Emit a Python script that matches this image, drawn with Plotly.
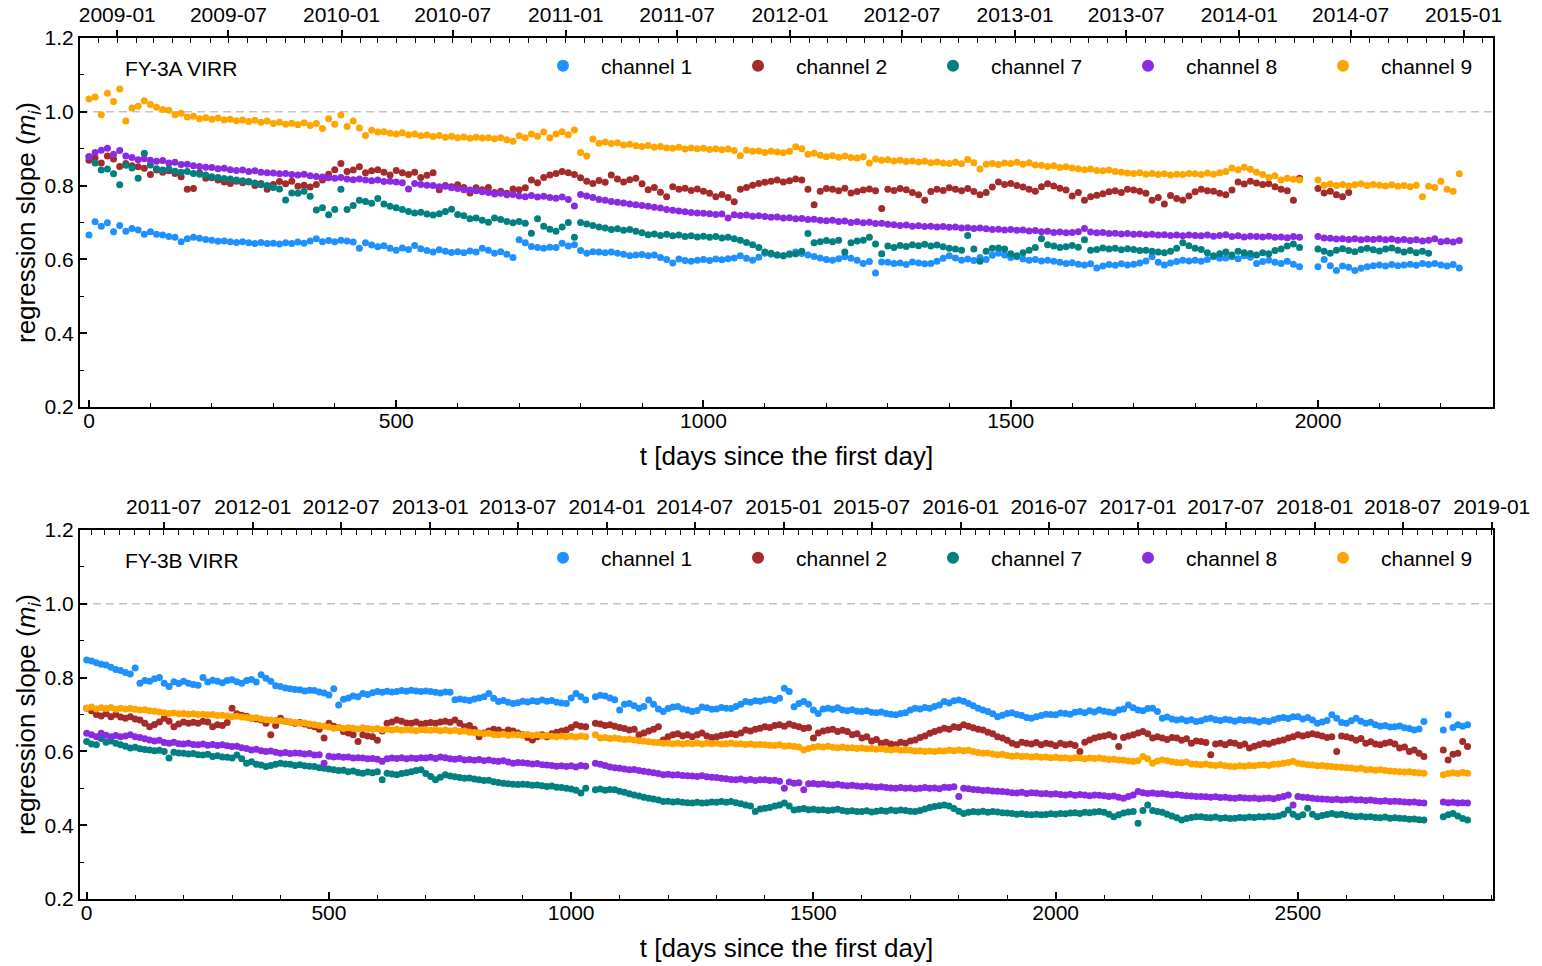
import datetime as dt
import plotly.graph_objects as go

# ---------------- data ----------------
CHANNELS = ["channel 1", "channel 2", "channel 7", "channel 8", "channel 9"]
COLORS = ["#1E90FF", "#A52A2A", "#008080", "#8A2BE2", "#FFA500"]
SAMPLE_STEP = 10  # days between plotted samples

# FY-3A VIRR: segment start days (gap between ~1970 and 2000)
A_SEG_STARTS = [0, 2000]
A_FIRST_DAY = dt.datetime(2008, 11, 16)

A_CH1_1 = [0.666, 0.702, 0.690, 0.699, 0.675, 0.692, 0.676, 0.684, 0.680, 0.668,
           0.675, 0.668, 0.666, 0.662, 0.660, 0.648, 0.656, 0.660, 0.657, 0.654,
           0.652, 0.649, 0.650, 0.648, 0.646, 0.648, 0.645, 0.643, 0.646, 0.643,
           0.644, 0.642, 0.645, 0.643, 0.647, 0.644, 0.650, 0.656, 0.648, 0.651,
           0.648, 0.652, 0.650, 0.647, 0.630, 0.645, 0.639, 0.634, 0.637, 0.630,
           0.625, 0.631, 0.627, 0.638, 0.629, 0.624, 0.620, 0.626, 0.622, 0.619,
           0.621, 0.618, 0.623, 0.620, 0.630, 0.625, 0.617, 0.621, 0.614, 0.605,
           0.653, 0.645, 0.635, 0.632, 0.630, 0.633, 0.632, 0.644, 0.636, 0.640,
           0.624, 0.617, 0.621, 0.620, 0.618, 0.620, 0.617, 0.614, 0.610, 0.612,
           0.613, 0.610, 0.612, 0.605, 0.600, 0.590, 0.601, 0.597, 0.595, 0.598,
           0.600, 0.597, 0.601, 0.599, 0.602, 0.604, 0.610, 0.603, 0.598, 0.606,
           0.617, 0.614, 0.612, 0.610, 0.615, 0.620, 0.616, 0.612, 0.608, 0.604,
           0.600, 0.598, 0.602, 0.607, 0.603, 0.598, 0.589, 0.594, 0.563, 0.593,
           0.592, 0.589, 0.590, 0.586, 0.593, 0.590, 0.588, 0.589, 0.595, 0.603,
           0.610, 0.604, 0.598, 0.601, 0.597, 0.605, 0.600, 0.611, 0.617, 0.612,
           0.605, 0.607, 0.601, 0.598, 0.600, 0.596, 0.598, 0.595, 0.592, 0.589,
           0.591, 0.587, 0.585, 0.588, 0.577, 0.582, 0.586, 0.584, 0.588, 0.585,
           0.587, 0.590, 0.596, 0.607, 0.592, 0.585, 0.590, 0.594, 0.598, 0.596,
           0.598, 0.595, 0.600, 0.607, 0.603, 0.604, 0.607, 0.602, 0.610, 0.606,
           0.589, 0.594, 0.598, 0.592, 0.589, 0.595, 0.587, 0.580]
A_CH1_2 = [0.580, 0.600, 0.583, 0.570, 0.582, 0.579, 0.570, 0.576, 0.580, 0.583,
           0.585, 0.582, 0.586, 0.583, 0.585, 0.587, 0.584, 0.589, 0.586, 0.589,
           0.585, 0.582, 0.586, 0.577]

A_CH2_1 = [0.869, 0.875, 0.861, 0.880, 0.872, 0.852, 0.860, 0.854, 0.851, 0.847,
           0.830, 0.842, 0.836, 0.840, 0.833, 0.824, 0.790, 0.792, 0.835, 0.820,
           0.821, 0.815, 0.810, 0.806, 0.812, 0.808, 0.811, 0.800, 0.806, 0.790,
           0.803, 0.811, 0.805, 0.812, 0.798, 0.801, 0.796, 0.803, 0.815, 0.831,
           0.843, 0.860, 0.838, 0.842, 0.851, 0.835, 0.840, 0.843, 0.836, 0.829,
           0.841, 0.835, 0.830, 0.836, 0.822, 0.828, 0.835, 0.789, 0.800, 0.797,
           0.802, 0.795, 0.780, 0.794, 0.789, 0.795, 0.781, 0.785, 0.779, 0.791,
           0.789, 0.794, 0.815, 0.808, 0.822, 0.829, 0.833, 0.838, 0.835, 0.830,
           0.821, 0.812, 0.806, 0.814, 0.809, 0.829, 0.818, 0.810, 0.816, 0.820,
           0.805, 0.789, 0.795, 0.782, 0.770, 0.797, 0.790, 0.793, 0.787, 0.791,
           0.785, 0.779, 0.770, 0.776, 0.768, 0.756, 0.790, 0.795, 0.801, 0.806,
           0.809, 0.812, 0.815, 0.810, 0.813, 0.818, 0.815, 0.790, 0.748, 0.785,
           0.792, 0.790, 0.786, 0.793, 0.780, 0.784, 0.788, 0.791, 0.786, 0.738,
           0.790, 0.787, 0.792, 0.789, 0.781, 0.775, 0.760, 0.784, 0.790, 0.787,
           0.794, 0.790, 0.786, 0.792, 0.784, 0.775, 0.781, 0.796, 0.810, 0.803,
           0.806, 0.800, 0.796, 0.790, 0.785, 0.797, 0.805, 0.799, 0.793, 0.788,
           0.772, 0.781, 0.760, 0.770, 0.774, 0.778, 0.783, 0.786, 0.781, 0.790,
           0.788, 0.785, 0.779, 0.760, 0.768, 0.750, 0.773, 0.765, 0.760, 0.772,
           0.783, 0.790, 0.786, 0.785, 0.779, 0.775, 0.788, 0.810, 0.804, 0.812,
           0.807, 0.803, 0.805, 0.797, 0.790, 0.786, 0.760, 0.820]
A_CH2_2 = [0.792, 0.780, 0.785, 0.775, 0.770, 0.781]

A_CH7_1 = [0.878, 0.861, 0.842, 0.845, 0.832, 0.802, 0.855, 0.848, 0.820, 0.888,
           0.856, 0.846, 0.842, 0.845, 0.839, 0.836, 0.838, 0.833, 0.831, 0.829,
           0.824, 0.822, 0.819, 0.818, 0.815, 0.813, 0.810, 0.807, 0.802, 0.800,
           0.795, 0.791, 0.761, 0.780, 0.779, 0.785, 0.771, 0.734, 0.740, 0.721,
           0.735, 0.790, 0.735, 0.746, 0.760, 0.757, 0.752, 0.765, 0.750, 0.744,
           0.740, 0.735, 0.730, 0.726, 0.728, 0.723, 0.720, 0.724, 0.730, 0.736,
           0.722, 0.718, 0.710, 0.712, 0.706, 0.701, 0.712, 0.708, 0.703, 0.699,
           0.703, 0.698, 0.671, 0.710, 0.690, 0.682, 0.676, 0.688, 0.700, 0.660,
           0.700, 0.696, 0.692, 0.688, 0.685, 0.681, 0.683, 0.679, 0.681, 0.676,
           0.672, 0.667, 0.669, 0.665, 0.668, 0.664, 0.666, 0.662, 0.664, 0.661,
           0.663, 0.660, 0.662, 0.658, 0.660, 0.656, 0.652, 0.646, 0.640, 0.632,
           0.620, 0.617, 0.612, 0.610, 0.614, 0.615, 0.622, 0.670, 0.645, 0.648,
           0.651, 0.648, 0.652, 0.620, 0.645, 0.650, 0.652, 0.660, 0.642, 0.615,
           0.636, 0.632, 0.638, 0.635, 0.640, 0.637, 0.641, 0.636, 0.639, 0.634,
           0.630, 0.628, 0.625, 0.665, 0.628, 0.595, 0.622, 0.630, 0.631, 0.628,
           0.615, 0.610, 0.618, 0.625, 0.632, 0.656, 0.640, 0.636, 0.632, 0.634,
           0.638, 0.633, 0.653, 0.625, 0.627, 0.631, 0.628, 0.630, 0.626, 0.629,
           0.627, 0.624, 0.625, 0.622, 0.620, 0.618, 0.622, 0.630, 0.645, 0.637,
           0.630, 0.627, 0.618, 0.610, 0.615, 0.620, 0.612, 0.622, 0.618, 0.616,
           0.612, 0.618, 0.615, 0.624, 0.628, 0.636, 0.642, 0.632]
A_CH7_2 = [0.628, 0.622, 0.617, 0.625, 0.629, 0.624, 0.621, 0.627, 0.630, 0.626,
           0.623, 0.628, 0.631, 0.625, 0.620, 0.624, 0.618, 0.622, 0.617]

A_CH8_1 = [0.878, 0.890, 0.896, 0.901, 0.885, 0.895, 0.880, 0.876, 0.870, 0.873,
           0.869, 0.866, 0.868, 0.861, 0.863, 0.857, 0.858, 0.854, 0.852, 0.850,
           0.849, 0.846, 0.847, 0.843, 0.841, 0.842, 0.838, 0.840, 0.836, 0.835,
           0.834, 0.832, 0.833, 0.830, 0.829, 0.831, 0.827, 0.825, 0.823, 0.821,
           0.820, 0.822, 0.818, 0.816, 0.818, 0.815, 0.813, 0.815, 0.811, 0.812,
           0.810, 0.808, 0.791, 0.806, 0.803, 0.801, 0.800, 0.797, 0.798, 0.794,
           0.792, 0.789, 0.788, 0.786, 0.783, 0.781, 0.777, 0.779, 0.775, 0.776,
           0.772, 0.770, 0.773, 0.769, 0.771, 0.768, 0.766, 0.769, 0.762, 0.745,
           0.776, 0.772, 0.768, 0.762, 0.760, 0.757, 0.755, 0.753, 0.750, 0.748,
           0.746, 0.744, 0.741, 0.739, 0.735, 0.733, 0.731, 0.729, 0.727, 0.726,
           0.725, 0.724, 0.722, 0.723, 0.712, 0.721, 0.719, 0.720, 0.717, 0.718,
           0.716, 0.714, 0.715, 0.712, 0.713, 0.710, 0.711, 0.708, 0.709, 0.706,
           0.705, 0.706, 0.703, 0.704, 0.700, 0.702, 0.699, 0.701, 0.697, 0.698,
           0.695, 0.694, 0.692, 0.693, 0.690, 0.691, 0.689, 0.690, 0.688, 0.689,
           0.687, 0.688, 0.685, 0.686, 0.684, 0.685, 0.683, 0.681, 0.682, 0.680,
           0.681, 0.679, 0.680, 0.677, 0.678, 0.675, 0.676, 0.673, 0.674, 0.672,
           0.673, 0.675, 0.684, 0.674, 0.672, 0.673, 0.670, 0.671, 0.669, 0.670,
           0.668, 0.669, 0.667, 0.668, 0.666, 0.667, 0.665, 0.666, 0.664, 0.666,
           0.665, 0.664, 0.666, 0.663, 0.665, 0.667, 0.662, 0.664, 0.661, 0.663,
           0.662, 0.661, 0.663, 0.660, 0.661, 0.659, 0.662, 0.660]
A_CH8_2 = [0.662, 0.658, 0.657, 0.655, 0.656, 0.654, 0.656, 0.653, 0.655, 0.654,
           0.656, 0.653, 0.655, 0.652, 0.654, 0.651, 0.653, 0.650, 0.652, 0.656,
           0.648, 0.650, 0.647, 0.651]

A_CH9_1 = [1.035, 1.040, 0.992, 1.050, 1.028, 1.062, 0.975, 1.010, 1.015, 1.030,
           1.020, 1.012, 1.006, 1.004, 0.992, 0.996, 0.986, 0.988, 0.981, 0.984,
           0.980, 0.983, 0.978, 0.980, 0.976, 0.978, 0.974, 0.977, 0.972, 0.975,
           0.968, 0.972, 0.966, 0.969, 0.965, 0.970, 0.963, 0.968, 0.955, 0.981,
           0.966, 0.991, 0.960, 0.975, 0.956, 0.936, 0.950, 0.945, 0.946, 0.942,
           0.940, 0.943, 0.938, 0.940, 0.935, 0.937, 0.933, 0.936, 0.931, 0.934,
           0.930, 0.932, 0.928, 0.931, 0.929, 0.930, 0.927, 0.930, 0.924, 0.920,
           0.935, 0.930, 0.940, 0.934, 0.945, 0.930, 0.940, 0.946, 0.938, 0.951,
           0.890, 0.880, 0.926, 0.915, 0.918, 0.914, 0.916, 0.910, 0.912, 0.908,
           0.906, 0.909, 0.904, 0.906, 0.902, 0.901, 0.904, 0.899, 0.902, 0.900,
           0.901, 0.898, 0.900, 0.897, 0.899, 0.895, 0.881, 0.896, 0.893, 0.894,
           0.890, 0.893, 0.891, 0.889, 0.893, 0.905, 0.900, 0.885, 0.888, 0.882,
           0.878, 0.881, 0.877, 0.880, 0.876, 0.875, 0.878, 0.861, 0.872, 0.869,
           0.870, 0.867, 0.869, 0.865, 0.867, 0.864, 0.866, 0.862, 0.864, 0.861,
           0.860, 0.863, 0.859, 0.871, 0.862, 0.845, 0.858, 0.860, 0.857, 0.861,
           0.860, 0.863, 0.858, 0.862, 0.856, 0.855, 0.852, 0.854, 0.849, 0.851,
           0.848, 0.846, 0.843, 0.845, 0.841, 0.840, 0.842, 0.838, 0.836, 0.834,
           0.833, 0.835, 0.831, 0.833, 0.830, 0.832, 0.829, 0.831, 0.830, 0.833,
           0.832, 0.830, 0.834, 0.831, 0.835, 0.838, 0.848, 0.843, 0.850, 0.844,
           0.836, 0.830, 0.822, 0.827, 0.815, 0.820, 0.817, 0.815]
A_CH9_2 = [0.815, 0.801, 0.804, 0.800, 0.803, 0.799, 0.802, 0.805, 0.800, 0.803,
           0.801, 0.799, 0.802, 0.798, 0.800, 0.797, 0.801, 0.770, 0.798, 0.795,
           0.812, 0.790, 0.785, 0.832]

# FY-3B VIRR: segment start days (small gap near 1040, larger gap near 2780)
B_SEG_STARTS = [0, 1050, 2800]
B_FIRST_DAY = dt.datetime(2011, 1, 23)

B_CH1_1 = [0.848, 0.845, 0.840, 0.836, 0.834, 0.828, 0.822, 0.819, 0.814, 0.810,
           0.826, 0.785, 0.792, 0.790, 0.797, 0.800, 0.785, 0.776, 0.789, 0.784,
           0.790, 0.785, 0.781, 0.779, 0.800, 0.788, 0.793, 0.790, 0.786, 0.792,
           0.794, 0.789, 0.785, 0.792, 0.795, 0.788, 0.808, 0.798, 0.790, 0.778,
           0.776, 0.772, 0.770, 0.768, 0.767, 0.764, 0.766, 0.765, 0.761, 0.758,
           0.753, 0.770, 0.726, 0.741, 0.745, 0.750, 0.748, 0.757, 0.754, 0.759,
           0.762, 0.760, 0.763, 0.761, 0.762, 0.765, 0.763, 0.766, 0.764, 0.762,
           0.764, 0.762, 0.760, 0.758, 0.761, 0.760, 0.740, 0.742, 0.740, 0.738,
           0.742, 0.745, 0.748, 0.757, 0.744, 0.735, 0.738, 0.733, 0.730, 0.732,
           0.736, 0.734, 0.737, 0.735, 0.739, 0.736, 0.738, 0.733, 0.731, 0.730,
           0.745, 0.757, 0.748, 0.739]
B_CH1_2 = [0.748, 0.752, 0.750, 0.745, 0.740,
           0.712, 0.728, 0.730, 0.724, 0.717, 0.722, 0.739, 0.728, 0.715, 0.708,
           0.716, 0.720, 0.722, 0.715, 0.712, 0.708, 0.711, 0.720, 0.718, 0.714,
           0.715, 0.719, 0.717, 0.716, 0.722, 0.728, 0.735, 0.733, 0.737, 0.736,
           0.739, 0.741, 0.738, 0.744, 0.771, 0.762, 0.721, 0.730, 0.735, 0.728,
           0.712, 0.703, 0.715, 0.717, 0.714, 0.718, 0.712, 0.710, 0.713, 0.709,
           0.708, 0.710, 0.706, 0.705, 0.707, 0.703, 0.701, 0.699, 0.703, 0.705,
           0.712, 0.717, 0.715, 0.719, 0.717, 0.722, 0.726, 0.735, 0.731, 0.737,
           0.739, 0.736, 0.730, 0.724, 0.717, 0.712, 0.708, 0.702, 0.694, 0.698,
           0.703, 0.705, 0.700, 0.697, 0.692, 0.690, 0.694, 0.697, 0.701, 0.700,
           0.699, 0.704, 0.703, 0.701, 0.706, 0.708, 0.705, 0.710, 0.707, 0.712,
           0.709, 0.707, 0.705, 0.712, 0.715, 0.726, 0.718, 0.712, 0.710, 0.716,
           0.717, 0.708, 0.690, 0.693, 0.688, 0.685, 0.687, 0.683, 0.686, 0.681,
           0.683, 0.688, 0.690, 0.686, 0.684, 0.687, 0.685, 0.682, 0.686, 0.684,
           0.685, 0.683, 0.680, 0.684, 0.681, 0.686, 0.690, 0.692, 0.689, 0.694,
           0.694, 0.688, 0.692, 0.685, 0.676, 0.680, 0.684, 0.699, 0.690, 0.678,
           0.676, 0.683, 0.690, 0.682, 0.676, 0.679, 0.672, 0.668, 0.670, 0.666,
           0.667, 0.669, 0.664, 0.662, 0.658, 0.661, 0.681]
B_CH1_3 = [0.658, 0.699, 0.665, 0.672, 0.668, 0.672]

B_CH2_1 = [0.717, 0.710, 0.700, 0.696, 0.702, 0.694, 0.700, 0.693, 0.690, 0.694,
           0.688, 0.685, 0.676, 0.667, 0.673, 0.680, 0.690, 0.682, 0.667, 0.674,
           0.680, 0.676, 0.679, 0.676, 0.682, 0.680, 0.667, 0.672, 0.670, 0.678,
           0.717, 0.702, 0.698, 0.695, 0.690, 0.688, 0.685, 0.676, 0.645, 0.670,
           0.690, 0.682, 0.680, 0.676, 0.678, 0.674, 0.670, 0.667, 0.660, 0.636,
           0.676, 0.668, 0.665, 0.654, 0.650, 0.645, 0.627, 0.645, 0.642, 0.640,
           0.630, 0.655, 0.676, 0.680, 0.685, 0.682, 0.677, 0.676, 0.680, 0.674,
           0.676, 0.678, 0.676, 0.680, 0.682, 0.679, 0.685, 0.676, 0.667, 0.670,
           0.660, 0.640, 0.650, 0.655, 0.660, 0.658, 0.652, 0.658, 0.655, 0.650,
           0.645, 0.638, 0.631, 0.640, 0.645, 0.640, 0.648, 0.652, 0.655, 0.658,
           0.665, 0.672, 0.668, 0.667]
B_CH2_2 = [0.676, 0.674, 0.670, 0.672, 0.668,
           0.665, 0.662, 0.658, 0.660, 0.645, 0.650, 0.655, 0.660, 0.667, 0.631,
           0.640, 0.645, 0.648, 0.642, 0.645, 0.640, 0.645, 0.650, 0.642, 0.638,
           0.640, 0.643, 0.645, 0.648, 0.645, 0.650, 0.658, 0.655, 0.660, 0.663,
           0.667, 0.665, 0.670, 0.672, 0.668, 0.674, 0.670, 0.667, 0.662, 0.664,
           0.636, 0.650, 0.655, 0.658, 0.660, 0.654, 0.657, 0.654, 0.645, 0.648,
           0.636, 0.640, 0.628, 0.632, 0.622, 0.625, 0.620, 0.618, 0.625, 0.622,
           0.628, 0.631, 0.638, 0.642, 0.649, 0.654, 0.658, 0.663, 0.660, 0.667,
           0.665, 0.672, 0.668, 0.664, 0.660, 0.658, 0.652, 0.648, 0.640, 0.636,
           0.630, 0.622, 0.618, 0.625, 0.622, 0.620, 0.624, 0.618, 0.622, 0.620,
           0.615, 0.622, 0.618, 0.620, 0.616, 0.600, 0.625, 0.631, 0.636, 0.640,
           0.642, 0.645, 0.640, 0.613, 0.638, 0.642, 0.645, 0.650, 0.654, 0.648,
           0.636, 0.640, 0.636, 0.632, 0.638, 0.636, 0.630, 0.634, 0.622, 0.628,
           0.627, 0.624, 0.591, 0.620, 0.622, 0.618, 0.624, 0.622, 0.616, 0.620,
           0.609, 0.614, 0.618, 0.622, 0.620, 0.625, 0.628, 0.631, 0.636, 0.640,
           0.645, 0.642, 0.645, 0.648, 0.645, 0.642, 0.638, 0.640, 0.600, 0.642,
           0.640, 0.636, 0.630, 0.635, 0.622, 0.626, 0.620, 0.618, 0.622, 0.625,
           0.620, 0.609, 0.612, 0.600, 0.604, 0.595, 0.586]
B_CH2_3 = [0.604, 0.577, 0.592, 0.595, 0.627, 0.613]

B_CH7_1 = [0.627, 0.620, 0.618, 0.635, 0.625, 0.628, 0.622, 0.618, 0.614, 0.609,
           0.611, 0.607, 0.605, 0.604, 0.602, 0.603, 0.600, 0.582, 0.598, 0.596,
           0.595, 0.593, 0.594, 0.591, 0.590, 0.592, 0.586, 0.588, 0.585, 0.584,
           0.582, 0.590, 0.580, 0.568, 0.572, 0.565, 0.563, 0.559, 0.562, 0.565,
           0.568, 0.566, 0.565, 0.562, 0.564, 0.561, 0.560, 0.559, 0.556, 0.554,
           0.552, 0.550, 0.548, 0.549, 0.545, 0.547, 0.543, 0.541, 0.544, 0.542,
           0.545, 0.523, 0.541, 0.539, 0.537, 0.540, 0.542, 0.545, 0.548, 0.550,
           0.540, 0.532, 0.523, 0.530, 0.537, 0.533, 0.531, 0.529, 0.527, 0.528,
           0.525, 0.523, 0.521, 0.522, 0.518, 0.516, 0.514, 0.512, 0.511, 0.510,
           0.511, 0.510, 0.508, 0.509, 0.507, 0.505, 0.506, 0.503, 0.502, 0.500,
           0.498, 0.495, 0.487, 0.500]
B_CH7_2 = [0.496, 0.498, 0.495, 0.497, 0.496,
           0.492, 0.489, 0.485, 0.482, 0.479, 0.476, 0.473, 0.471, 0.468, 0.464,
           0.465, 0.463, 0.464, 0.462, 0.461, 0.460, 0.462, 0.460, 0.461, 0.463,
           0.462, 0.464, 0.462, 0.464, 0.461, 0.458, 0.455, 0.452, 0.437, 0.444,
           0.446, 0.448, 0.452, 0.455, 0.460, 0.452, 0.441, 0.443, 0.445, 0.442,
           0.443, 0.441, 0.442, 0.440, 0.441, 0.443, 0.440, 0.438, 0.439, 0.437,
           0.437, 0.439, 0.436, 0.438, 0.440, 0.438, 0.441, 0.439, 0.441, 0.440,
           0.438, 0.437, 0.440, 0.444, 0.448, 0.451, 0.453, 0.455, 0.452, 0.445,
           0.438, 0.432, 0.435, 0.437, 0.436, 0.438, 0.435, 0.437, 0.436, 0.434,
           0.433, 0.432, 0.430, 0.431, 0.429, 0.428, 0.430, 0.428, 0.429, 0.431,
           0.430, 0.432, 0.431, 0.433, 0.434, 0.432, 0.435, 0.434, 0.436, 0.437,
           0.435, 0.430, 0.423, 0.428, 0.433, 0.436, 0.437, 0.405, 0.440, 0.455,
           0.440, 0.437, 0.435, 0.430, 0.425, 0.420, 0.414, 0.418, 0.421, 0.423,
           0.423, 0.421, 0.420, 0.422, 0.419, 0.420, 0.418, 0.419, 0.421, 0.420,
           0.422, 0.421, 0.423, 0.422, 0.424, 0.423, 0.425, 0.430, 0.441, 0.430,
           0.423, 0.428, 0.446, 0.430, 0.423, 0.426, 0.429, 0.432, 0.428, 0.430,
           0.427, 0.425, 0.423, 0.424, 0.422, 0.423, 0.421, 0.420, 0.422, 0.419,
           0.420, 0.419, 0.418, 0.416, 0.417, 0.415, 0.414]
B_CH7_3 = [0.423, 0.428, 0.432, 0.425, 0.418, 0.414]

B_CH8_1 = [0.649, 0.645, 0.640, 0.649, 0.644, 0.640, 0.643, 0.640, 0.642, 0.645,
           0.640, 0.638, 0.634, 0.631, 0.628, 0.630, 0.624, 0.622, 0.625, 0.621,
           0.620, 0.622, 0.619, 0.618, 0.620, 0.617, 0.619, 0.616, 0.618, 0.615,
           0.613, 0.614, 0.610, 0.608, 0.604, 0.606, 0.602, 0.600, 0.601, 0.598,
           0.595, 0.597, 0.594, 0.596, 0.595, 0.593, 0.594, 0.590, 0.591, 0.568,
           0.587, 0.585, 0.586, 0.584, 0.585, 0.582, 0.583, 0.582, 0.580, 0.581,
           0.579, 0.573, 0.580, 0.582, 0.581, 0.583, 0.580, 0.582, 0.581, 0.583,
           0.582, 0.584, 0.581, 0.585, 0.583, 0.580, 0.579, 0.581, 0.577, 0.578,
           0.576, 0.578, 0.575, 0.577, 0.574, 0.573, 0.575, 0.571, 0.568, 0.570,
           0.569, 0.568, 0.566, 0.567, 0.564, 0.563, 0.562, 0.560, 0.561, 0.559,
           0.561, 0.558, 0.562, 0.560]
B_CH8_2 = [0.568, 0.565, 0.562, 0.558, 0.556,
           0.554, 0.552, 0.550, 0.551, 0.548, 0.546, 0.544, 0.542, 0.540, 0.537,
           0.538, 0.536, 0.537, 0.535, 0.534, 0.533, 0.532, 0.534, 0.531, 0.530,
           0.529, 0.527, 0.526, 0.524, 0.523, 0.525, 0.522, 0.524, 0.521, 0.523,
           0.523, 0.521, 0.522, 0.519, 0.500, 0.517, 0.514, 0.515, 0.496, 0.512,
           0.513, 0.511, 0.512, 0.510, 0.509, 0.511, 0.508, 0.507, 0.508, 0.506,
           0.505, 0.506, 0.504, 0.503, 0.504, 0.502, 0.501, 0.500, 0.502, 0.500,
           0.501, 0.499, 0.500, 0.502, 0.500, 0.501, 0.499, 0.503, 0.502, 0.504,
           0.478, 0.500, 0.499, 0.497, 0.496, 0.494, 0.495, 0.493, 0.492, 0.491,
           0.490, 0.488, 0.487, 0.489, 0.486, 0.488, 0.487, 0.485, 0.486, 0.484,
           0.485, 0.483, 0.482, 0.484, 0.481, 0.483, 0.482, 0.480, 0.482, 0.481,
           0.480, 0.478, 0.479, 0.476, 0.473, 0.478, 0.482, 0.491, 0.488, 0.486,
           0.487, 0.485, 0.486, 0.484, 0.482, 0.483, 0.481, 0.480, 0.479, 0.478,
           0.478, 0.477, 0.476, 0.477, 0.475, 0.476, 0.474, 0.473, 0.475, 0.474,
           0.473, 0.474, 0.472, 0.473, 0.474, 0.472, 0.475, 0.478, 0.482, 0.455,
           0.478, 0.476, 0.475, 0.473, 0.472, 0.471, 0.470, 0.469, 0.470, 0.468,
           0.469, 0.470, 0.468, 0.469, 0.467, 0.468, 0.466, 0.465, 0.466, 0.464,
           0.465, 0.464, 0.463, 0.462, 0.463, 0.461, 0.460]
B_CH8_3 = [0.463, 0.461, 0.462, 0.460, 0.461, 0.460]

B_CH9_1 = [0.717, 0.720, 0.715, 0.718, 0.716, 0.719, 0.714, 0.717, 0.715, 0.716,
           0.714, 0.712, 0.713, 0.710, 0.709, 0.707, 0.705, 0.703, 0.704, 0.702,
           0.703, 0.701, 0.702, 0.700, 0.701, 0.699, 0.700, 0.697, 0.698, 0.696,
           0.694, 0.695, 0.693, 0.692, 0.690, 0.691, 0.688, 0.686, 0.685, 0.684,
           0.683, 0.681, 0.680, 0.678, 0.676, 0.677, 0.674, 0.672, 0.670, 0.668,
           0.666, 0.663, 0.665, 0.662, 0.664, 0.663, 0.661, 0.664, 0.662, 0.660,
           0.662, 0.659, 0.660, 0.658, 0.660, 0.657, 0.659, 0.658, 0.656, 0.659,
           0.658, 0.657, 0.659, 0.656, 0.658, 0.655, 0.657, 0.654, 0.655, 0.652,
           0.651, 0.650, 0.648, 0.649, 0.646, 0.645, 0.647, 0.644, 0.646, 0.645,
           0.644, 0.646, 0.643, 0.645, 0.642, 0.643, 0.641, 0.640, 0.642, 0.640,
           0.641, 0.639, 0.642, 0.640]
B_CH9_2 = [0.645, 0.636, 0.638, 0.635, 0.636,
           0.634, 0.632, 0.633, 0.631, 0.629, 0.628, 0.626, 0.625, 0.624, 0.622,
           0.623, 0.621, 0.622, 0.620, 0.622, 0.621, 0.623, 0.620, 0.622, 0.621,
           0.622, 0.620, 0.621, 0.623, 0.620, 0.621, 0.619, 0.620, 0.618, 0.619,
           0.618, 0.617, 0.616, 0.618, 0.614, 0.615, 0.613, 0.612, 0.604, 0.608,
           0.611, 0.613, 0.612, 0.614, 0.611, 0.610, 0.612, 0.609, 0.610, 0.608,
           0.609, 0.607, 0.608, 0.606, 0.607, 0.605, 0.604, 0.606, 0.603, 0.604,
           0.603, 0.601, 0.602, 0.600, 0.601, 0.600, 0.602, 0.601, 0.603, 0.602,
           0.604, 0.602, 0.603, 0.600, 0.597, 0.595, 0.596, 0.593, 0.591, 0.592,
           0.589, 0.587, 0.588, 0.586, 0.587, 0.585, 0.586, 0.584, 0.585, 0.583,
           0.584, 0.582, 0.583, 0.581, 0.583, 0.582, 0.580, 0.582, 0.581, 0.582,
           0.580, 0.578, 0.579, 0.577, 0.576, 0.574, 0.573, 0.575, 0.586, 0.580,
           0.568, 0.574, 0.577, 0.575, 0.572, 0.570, 0.569, 0.571, 0.566, 0.565,
           0.564, 0.566, 0.563, 0.562, 0.564, 0.561, 0.560, 0.559, 0.561, 0.560,
           0.562, 0.561, 0.563, 0.564, 0.562, 0.565, 0.566, 0.568, 0.570, 0.573,
           0.568, 0.566, 0.564, 0.563, 0.561, 0.562, 0.560, 0.559, 0.558, 0.557,
           0.556, 0.555, 0.553, 0.554, 0.550, 0.551, 0.549, 0.550, 0.548, 0.547,
           0.546, 0.545, 0.544, 0.545, 0.543, 0.542, 0.541]
B_CH9_3 = [0.537, 0.540, 0.542, 0.540, 0.543, 0.541]

A_SERIES = [[A_CH1_1, A_CH1_2], [A_CH2_1, A_CH2_2], [A_CH7_1, A_CH7_2],
            [A_CH8_1, A_CH8_2], [A_CH9_1, A_CH9_2]]
B_SERIES = [[B_CH1_1, B_CH1_2, B_CH1_3], [B_CH2_1, B_CH2_2, B_CH2_3],
            [B_CH7_1, B_CH7_2, B_CH7_3], [B_CH8_1, B_CH8_2, B_CH8_3],
            [B_CH9_1, B_CH9_2, B_CH9_3]]

PANEL_LABELS = ["FY-3A VIRR", "FY-3B VIRR"]
X_TITLE = "t [days since the first day]"
Y_TITLE = "regression slope (<i>m</i><sub><i>i</i></sub>)"


def seg_xy(segments, starts):
    xs, ys = [], []
    for vals, s in zip(segments, starts):
        xs += [s + SAMPLE_STEP * i for i in range(len(vals))]
        ys += list(vals)
    return xs, ys


# ---------------- figure ----------------
W, H = 1542, 966
FONT = "Liberation Sans, Arial, Helvetica, sans-serif"
A_RANGE = [-14.6, 2284.8]
B_RANGE = [-13.8, 2902.6]


def date_range(first_day, rng):
    return [(first_day + dt.timedelta(days=rng[0])).isoformat(),
            (first_day + dt.timedelta(days=rng[1])).isoformat()]


fig = go.Figure()
for name, color, segs in zip(CHANNELS, COLORS, A_SERIES):
    xs, ys = seg_xy(segs, A_SEG_STARTS)
    fig.add_trace(go.Scatter(x=xs, y=ys, mode="markers", name=name,
                             marker=dict(color=color, size=7, line=dict(width=0)),
                             xaxis="x", yaxis="y", legend="legend"))
for name, color, segs in zip(CHANNELS, COLORS, B_SERIES):
    xs, ys = seg_xy(segs, B_SEG_STARTS)
    fig.add_trace(go.Scatter(x=xs, y=ys, mode="markers", name=name,
                             marker=dict(color=color, size=7, line=dict(width=0)),
                             xaxis="x2", yaxis="y2", legend="legend2"))

# empty carriers so the calendar (top) axes are drawn
fig.add_trace(go.Scatter(x=date_range(A_FIRST_DAY, A_RANGE), y=[None, None],
                         mode="markers", xaxis="x3", yaxis="y",
                         showlegend=False, hoverinfo="skip"))
fig.add_trace(go.Scatter(x=date_range(B_FIRST_DAY, B_RANGE), y=[None, None],
                         mode="markers", xaxis="x4", yaxis="y2",
                         showlegend=False, hoverinfo="skip"))

x_dom = [80 / W, 1493 / W]
ya_dom = [1 - 407 / H, 1 - 38 / H]
yb_dom = [1 - 899 / H, 1 - 530 / H]

tickfont = dict(family=FONT, size=21, color="black")
titlefont = dict(family=FONT, size=26, color="black")


def xlin(domain, anchor, rng):
    return dict(domain=domain, anchor=anchor, range=rng, type="linear",
                showline=True, linecolor="black", linewidth=2,
                ticks="inside", ticklen=7, tickwidth=1.5, tickcolor="black",
                tick0=0, dtick=500, showgrid=False, zeroline=False,
                minor=dict(ticks="inside", ticklen=4, tickwidth=1.2,
                           tickcolor="black", dtick=100, tick0=0),
                tickfont=tickfont, automargin=False, ticklabelstandoff=-6,
                title=dict(text=X_TITLE, font=titlefont, standoff=16))


def ylin(domain, anchor):
    return dict(domain=domain, anchor=anchor, range=[0.2, 1.2],
                showline=True, linecolor="black", linewidth=2, mirror=True,
                ticks="inside", ticklen=7, tickwidth=1.5, tickcolor="black",
                tick0=0.2, dtick=0.2, tickformat=".1f", showgrid=False,
                zeroline=False,
                minor=dict(ticks="inside", ticklen=4, tickwidth=1.2,
                           tickcolor="black", dtick=0.1),
                tickfont=tickfont, automargin=False,
                title=dict(text=Y_TITLE, font=titlefont, standoff=0))


def xdate(over, anchor, first_day, rng, tick0):
    return dict(overlaying=over, anchor=anchor, side="top", type="date",
                range=date_range(first_day, rng),
                showline=True, linecolor="black", linewidth=2,
                tickformat="%Y-%m", dtick="M6", tick0=tick0,
                ticks="outside", ticklen=6, tickwidth=1.5, tickcolor="black",
                minor=dict(ticks="inside", ticklen=5, tickwidth=1.2,
                           tickcolor="black", dtick="M1"),
                showgrid=False, zeroline=False, tickfont=tickfont,
                automargin=False)


legend_common = dict(orientation="h", xref="paper", yref="paper",
                     x=525 / W, xanchor="left", yanchor="middle",
                     font=dict(family=FONT, size=21, color="black"),
                     itemwidth=66, entrywidth=114, entrywidthmode="pixels",
                     itemsizing="constant", bgcolor="rgba(0,0,0,0)",
                     borderwidth=0, tracegroupgap=0)

fig.update_layout(
    width=W, height=H, autosize=False, template="none",
    margin=dict(l=0, r=0, t=0, b=0, pad=0),
    paper_bgcolor="white", plot_bgcolor="white",
    font=dict(family=FONT, size=21, color="black"),
    xaxis=xlin(x_dom, "y", A_RANGE),
    yaxis=ylin(ya_dom, "x"),
    xaxis2=xlin(x_dom, "y2", B_RANGE),
    yaxis2=ylin(yb_dom, "x2"),
    xaxis3=xdate("x", "y", A_FIRST_DAY, A_RANGE, "2009-01-01"),
    xaxis4=xdate("x2", "y2", B_FIRST_DAY, B_RANGE, "2011-07-01"),
    legend=dict(legend_common, y=1 - 66 / H),
    legend2=dict(legend_common, y=1 - 558 / H),
    showlegend=True,
)

for yref, label, ypx in [("y", PANEL_LABELS[0], 68), ("y2", PANEL_LABELS[1], 560)]:
    fig.add_shape(type="line", xref=("x domain" if yref == "y" else "x2 domain"),
                  yref=yref, x0=0, x1=1, y0=1.0, y1=1.0,
                  line=dict(color="#c4c4c4", width=1.6, dash="8px,5px"), layer="below")
    fig.add_annotation(text=label, xref="paper", yref="paper",
                       x=123 / W, y=1 - ypx / H, xanchor="left", yanchor="middle",
                       showarrow=False, font=dict(family=FONT, size=21, color="black"))

fig.write_html("out.html")
